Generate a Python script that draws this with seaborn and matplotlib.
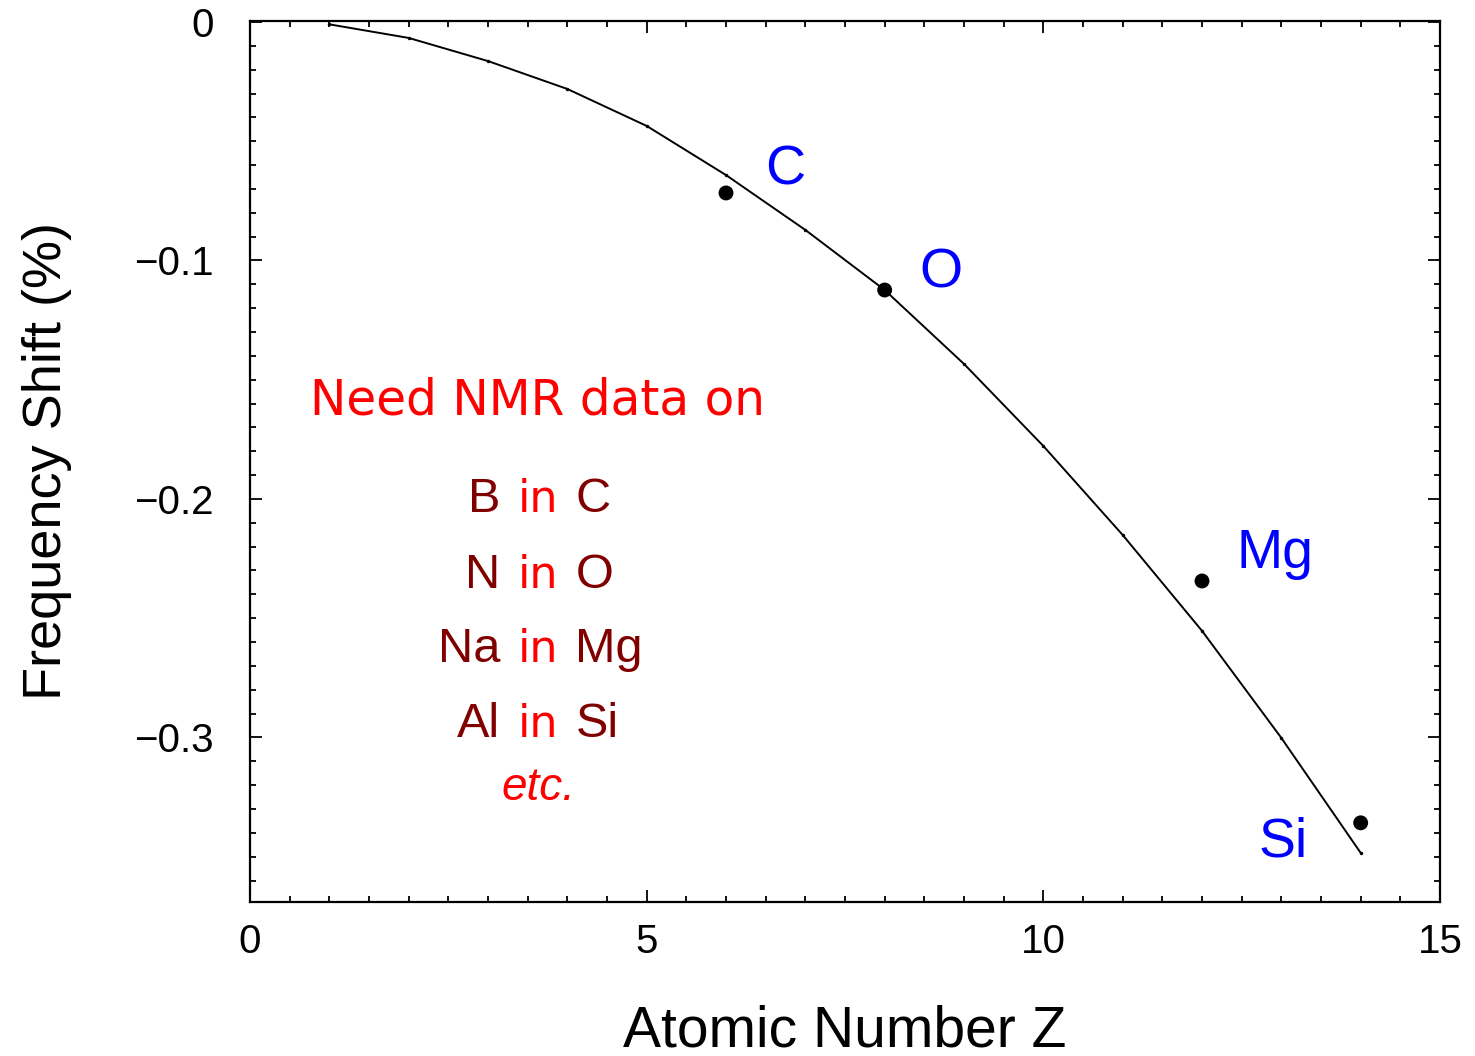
import numpy as np
import matplotlib.pyplot as plt
import seaborn as sns
from matplotlib.ticker import MultipleLocator

# theory curve
z_curve = [1, 2, 3, 4, 5, 6, 7, 8, 9, 10, 11, 12, 13, 14]
shift_curve = [-0.001, -0.0067, -0.0164, -0.0281, -0.0436, -0.0642, -0.0872,
               -0.1124, -0.1434, -0.1778, -0.2151, -0.2553, -0.3002, -0.3484]

# measured points
elements = ['C', 'O', 'Mg', 'Si']
z_pts = [6, 8, 12, 14]
shift_pts = [-0.0717, -0.1124, -0.2344, -0.3358]

pairs = [('B', 'C'), ('N', 'O'), ('Na', 'Mg'), ('Al', 'Si')]

y_ticks = [0, -0.1, -0.2, -0.3]
y_ticklabels = ['0', '\u22120.1', '\u22120.2', '\u22120.3']

sns.set_style('ticks')
plt.rcParams['font.family'] = ['Liberation Sans', 'DejaVu Sans']

fig = plt.figure(figsize=(14.75, 10.56), dpi=100)
ax = fig.add_axes([250/1475, 1-902/1056, 1190/1475, 881/1056])

sns.lineplot(x=z_curve, y=shift_curve, ax=ax, color='black', linewidth=1.4,
             marker='o', markersize=2.5, markeredgewidth=0)
sns.scatterplot(x=z_pts, y=shift_pts, ax=ax, color='black', s=115, edgecolor='none', zorder=5)

ax.set_xlim(0, 15)
ax.set_ylim(-0.369, 0.0004)
ax.xaxis.set_major_locator(MultipleLocator(5))
ax.xaxis.set_minor_locator(MultipleLocator(0.5))
ax.set_yticks(y_ticks, y_ticklabels)
ax.yaxis.set_minor_locator(MultipleLocator(0.01))
ax.tick_params(which='both', direction='in', top=True, right=True, width=1.3, color='black')
ax.tick_params(which='major', length=8.5, labelsize=29, labelcolor='black')
ax.tick_params(which='minor', length=4.5)
ax.tick_params(axis='x', which='major', pad=15)
ax.tick_params(axis='y', which='major', pad=26)
for sp in ax.spines.values():
    sp.set_linewidth(1.6)
    sp.set_color('black')

ax.set_xlabel('Atomic Number Z', fontsize=41, color='black')
ax.set_ylabel('Frequency Shift (%)', fontsize=39, color='black')
ax.xaxis.set_label_coords(0.5, -0.116)
ax.yaxis.set_label_coords(-0.1496, 0.5)

# element labels
offsets = {'C': (28, 6, 'left'), 'O': (25, 1.5, 'left'),
           'Mg': (24.5, 9.4, 'left'), 'Si': (-38, -24.5, 'right')}
for el, z, s in zip(elements, z_pts, shift_pts):
    dx, dy, ha = offsets[el]
    ax.annotate(el, (z, s), xytext=(dx, dy), textcoords='offset points',
                ha=ha, va='baseline', fontsize=40, color='#0000ff')

# annotation block
xc = 3.63
ax.text(xc, -0.1648, 'Need NMR data on', ha='center', va='baseline',
        fontsize=35, color='#ff0000', family='DejaVu Sans')
line_y = [-0.2055, -0.2373, -0.2683, -0.2998]
for (a, b), yy in zip(pairs, line_y):
    ax.annotate(a, (xc, yy), xytext=(-27, 0), textcoords='offset points',
                ha='right', va='baseline', fontsize=35, color='#800000')
    ax.annotate('in', (xc, yy), ha='center', va='baseline', fontsize=32,
                color='#ff0000', family='DejaVu Sans')
    ax.annotate(b, (xc, yy), xytext=(27, 0), textcoords='offset points',
                ha='left', va='baseline', fontsize=35, color='#800000')
ax.text(xc, -0.3262, 'etc.', ha='center', va='baseline', fontsize=33,
        color='#ff0000', style='italic')

fig.savefig('out.png', dpi=100)
